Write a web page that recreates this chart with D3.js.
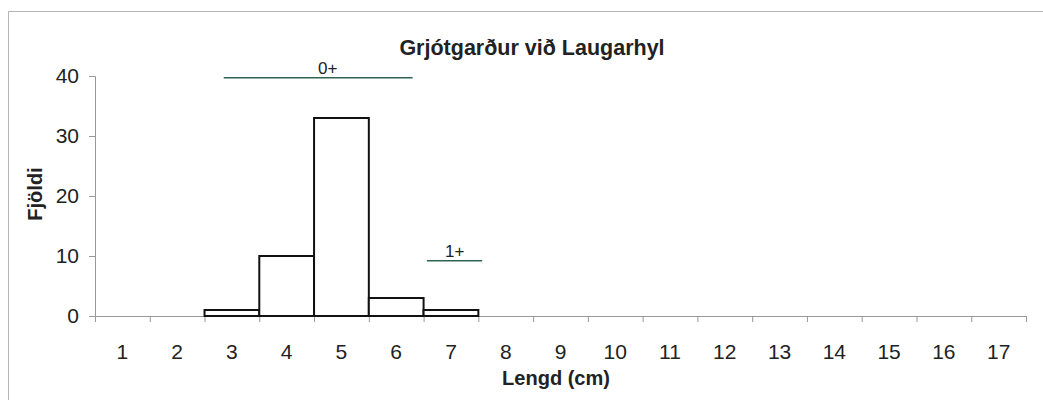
<!DOCTYPE html>
<html>
<head>
<meta charset="utf-8">
<script src="https://cdn.jsdelivr.net/npm/d3@7"></script>
<style>
  body { margin: 0; background: #fff; }
  text { font-family: "Liberation Sans", Arial, sans-serif; fill: #222; }
</style>
</head>
<body>
<svg></svg>
<script>
// data
var lengths = [1, 2, 3, 4, 5, 6, 7, 8, 9, 10, 11, 12, 13, 14, 15, 16, 17];
var counts  = [0, 0, 1, 10, 33, 3, 1, 0, 0, 0, 0, 0, 0, 0, 0, 0, 0];
var yTicks = [0, 10, 20, 30, 40];
// age groups: label, start, end (in length units), level, label position
var ageLabels = ["0+", "1+"];
var ageStart = [2.85, 6.56];
var ageEnd   = [6.30, 7.57];
var ageLevel = [39.7, 9.2];
var ageLabelAt = [4.75, 7.07];

var svgWidth = 1043;
var svgHeight = 400;

var margin = { top: 76, right: 17, bottom: 84, left: 95 };
var chartWidth = svgWidth - margin.left - margin.right;
var chartHeight = svgHeight - margin.top - margin.bottom;

var svg = d3.select("svg")
  .attr("width", svgWidth)
  .attr("height", svgHeight);

// outer frame (only top and left edges visible)
svg.append("path")
  .attr("d", "M8.5,400 L8.5,11.5 L1043,11.5")
  .attr("fill", "none")
  .attr("stroke", "#b5b5b5");

var chartGroup = svg.append("g")
  .attr("transform", `translate(${margin.left}, ${margin.top})`);

var xBandScale = d3.scaleBand()
  .domain(lengths)
  .range([0, chartWidth])
  .padding(0);

var xLinear = d3.scaleLinear()
  .domain([0.5, 17.5])
  .range([0, chartWidth]);

var yLinearScale = d3.scaleLinear()
  .domain([0, 40])
  .range([chartHeight, 0]);

// y axis
var leftAxis = d3.axisLeft(yLinearScale).tickValues(yTicks).tickSize(6).tickPadding(10);
var yAxisG = chartGroup.append("g").call(leftAxis);
yAxisG.select(".domain").attr("stroke", "#999");
yAxisG.selectAll(".tick line").attr("stroke", "#999");
yAxisG.selectAll("text").style("font-size", "21px").attr("fill", "#222");

// x axis: ticks at band boundaries
var boundaries = d3.range(0, lengths.length + 1).map(i => i + 0.5);
var bottomAxis = d3.axisBottom(xLinear).tickValues(boundaries).tickFormat("").tickSize(6).tickSizeOuter(0);
var xAxisG = chartGroup.append("g")
  .attr("transform", `translate(0,${chartHeight})`)
  .call(bottomAxis);
xAxisG.select(".domain").attr("stroke", "#999");
xAxisG.selectAll(".tick line").attr("stroke", "#999");

// x labels centred in the bands
var labelAxis = d3.axisBottom(xBandScale).tickSize(0).tickPadding(28);
var xLabG = chartGroup.append("g")
  .attr("transform", `translate(0,${chartHeight})`)
  .call(labelAxis);
xLabG.select(".domain").remove();
xLabG.selectAll("text").style("font-size", "21px").attr("fill", "#222");

// bars
chartGroup.selectAll(".bar")
  .data(lengths.map((l, i) => ({ l: l, c: counts[i] })).filter(d => d.c > 0))
  .enter()
  .append("rect")
  .attr("class", "bar")
  .attr("x", d => xBandScale(d.l))
  .attr("y", d => yLinearScale(d.c))
  .attr("width", xBandScale.bandwidth())
  .attr("height", d => chartHeight - yLinearScale(d.c))
  .attr("fill", "#fff")
  .attr("stroke", "#111")
  .attr("stroke-width", 2);

// age group lines
ageLabels.forEach(function(lab, i) {
  chartGroup.append("line")
    .attr("x1", xLinear(ageStart[i]))
    .attr("x2", xLinear(ageEnd[i]))
    .attr("y1", yLinearScale(ageLevel[i]))
    .attr("y2", yLinearScale(ageLevel[i]))
    .attr("stroke", "#2f6453")
    .attr("stroke-width", 1.5);
  chartGroup.append("text")
    .attr("x", xLinear(ageLabelAt[i]))
    .attr("y", yLinearScale(ageLevel[i]) - 4)
    .attr("text-anchor", "middle")
    .style("font-size", "17px")
    .text(lab);
});

// title
svg.append("text")
  .attr("x", 532)
  .attr("y", 55)
  .attr("text-anchor", "middle")
  .style("font-size", "21.5px")
  .style("font-weight", "bold")
  .text("Grjótgarður við Laugarhyl");

// axis titles
svg.append("text")
  .attr("x", 556)
  .attr("y", 385)
  .attr("text-anchor", "middle")
  .style("font-size", "20px")
  .style("font-weight", "bold")
  .text("Lengd (cm)");

svg.append("text")
  .attr("transform", "translate(42,194) rotate(-90)")
  .attr("text-anchor", "middle")
  .style("font-size", "20px")
  .style("font-weight", "bold")
  .text("Fjöldi");
</script>
</body>
</html>
